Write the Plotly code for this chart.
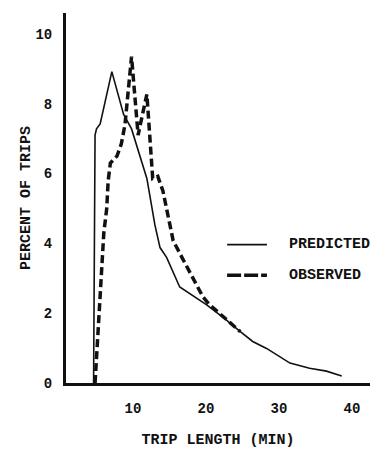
import plotly.graph_objects as go

# Predicted trip-length distribution (solid)
pred_x = [4.6, 4.8, 5.0, 5.5, 7.1, 8.7, 9.8, 11.9, 13.0, 13.7, 14.6, 16.4, 20.1, 22.6, 24.7, 26.4, 28.3, 31.5, 34.2, 36.5, 38.6]
pred_y = [0.0, 7.1, 7.28, 7.42, 8.92, 7.7, 7.28, 5.86, 4.53, 3.88, 3.6, 2.75, 2.24, 1.84, 1.47, 1.19, 0.99, 0.57, 0.42, 0.34, 0.2]

# Observed trip-length distribution (dashed)
obs_x = [4.8, 5.2, 5.7, 6.0, 6.4, 6.6, 6.9, 7.8, 8.4, 8.9, 9.8, 10.7, 11.0, 11.9, 12.7, 13.4, 14.1, 15.5, 16.7, 18.2, 19.6, 20.5, 22.6, 24.7]
obs_y = [0.0, 1.5, 3.5, 4.3, 5.0, 5.8, 6.3, 6.5, 6.85, 7.4, 9.35, 7.1, 7.4, 8.27, 5.86, 5.92, 5.5, 4.08, 3.6, 3.03, 2.46, 2.24, 1.86, 1.47]

x_ticks = [10, 20, 30, 40]
y_ticks = [0, 2, 4, 6, 8, 10]

FONT = "Liberation Mono"

fig = go.Figure()
fig.add_trace(go.Scatter(x=pred_x, y=pred_y, mode="lines", name="PREDICTED",
                         line=dict(color="#111", width=1.6), showlegend=False))
fig.add_trace(go.Scatter(x=obs_x, y=obs_y, mode="lines", name="OBSERVED",
                         line=dict(color="#111", width=3.5, dash="8px,4px"), showlegend=False))

# legend drawn manually
fig.add_shape(type="line", xref="paper", yref="paper", x0=0.53, x1=0.661, y0=0.374, y1=0.374,
              line=dict(color="#111", width=1.8))
fig.add_shape(type="line", xref="paper", yref="paper", x0=0.53, x1=0.661, y0=0.291, y1=0.291,
              line=dict(color="#111", width=3.5, dash="14px,3px"))
fig.add_annotation(xref="paper", yref="paper", x=0.727, y=0.374, text="PREDICTED", showarrow=False,
                   xanchor="left", yanchor="middle", font=dict(family=FONT, size=15, color="#111", weight="bold"))
fig.add_annotation(xref="paper", yref="paper", x=0.727, y=0.291, text="OBSERVED", showarrow=False,
                   xanchor="left", yanchor="middle", font=dict(family=FONT, size=15, color="#111", weight="bold"))

fig.update_layout(
    width=372, height=449,
    margin=dict(l=66, r=2, t=13, b=62),
    paper_bgcolor="white", plot_bgcolor="white",
    font=dict(family=FONT, color="#111"),
    xaxis=dict(range=[0.82, 42.47], tickvals=x_ticks, ticktext=[str(v) for v in x_ticks],
               showgrid=False, zeroline=False, showline=True, linecolor="#111", linewidth=3,
               ticks="", ticklabelstandoff=10,
               tickfont=dict(family=FONT, size=14, weight="bold"),
               title=dict(text="TRIP LENGTH (MIN)", font=dict(family=FONT, size=15, weight="bold"), standoff=20)),
    yaxis=dict(range=[0, 10.6], tickvals=y_ticks, ticktext=[str(v) for v in y_ticks],
               showgrid=False, zeroline=False, showline=True, linecolor="#111", linewidth=3,
               ticks="", ticklabelstandoff=8,
               tickfont=dict(family=FONT, size=14, weight="bold"),
               title=dict(text="PERCENT OF TRIPS", font=dict(family=FONT, size=15, weight="bold"), standoff=2)),
)

fig.write_html("out.html")
